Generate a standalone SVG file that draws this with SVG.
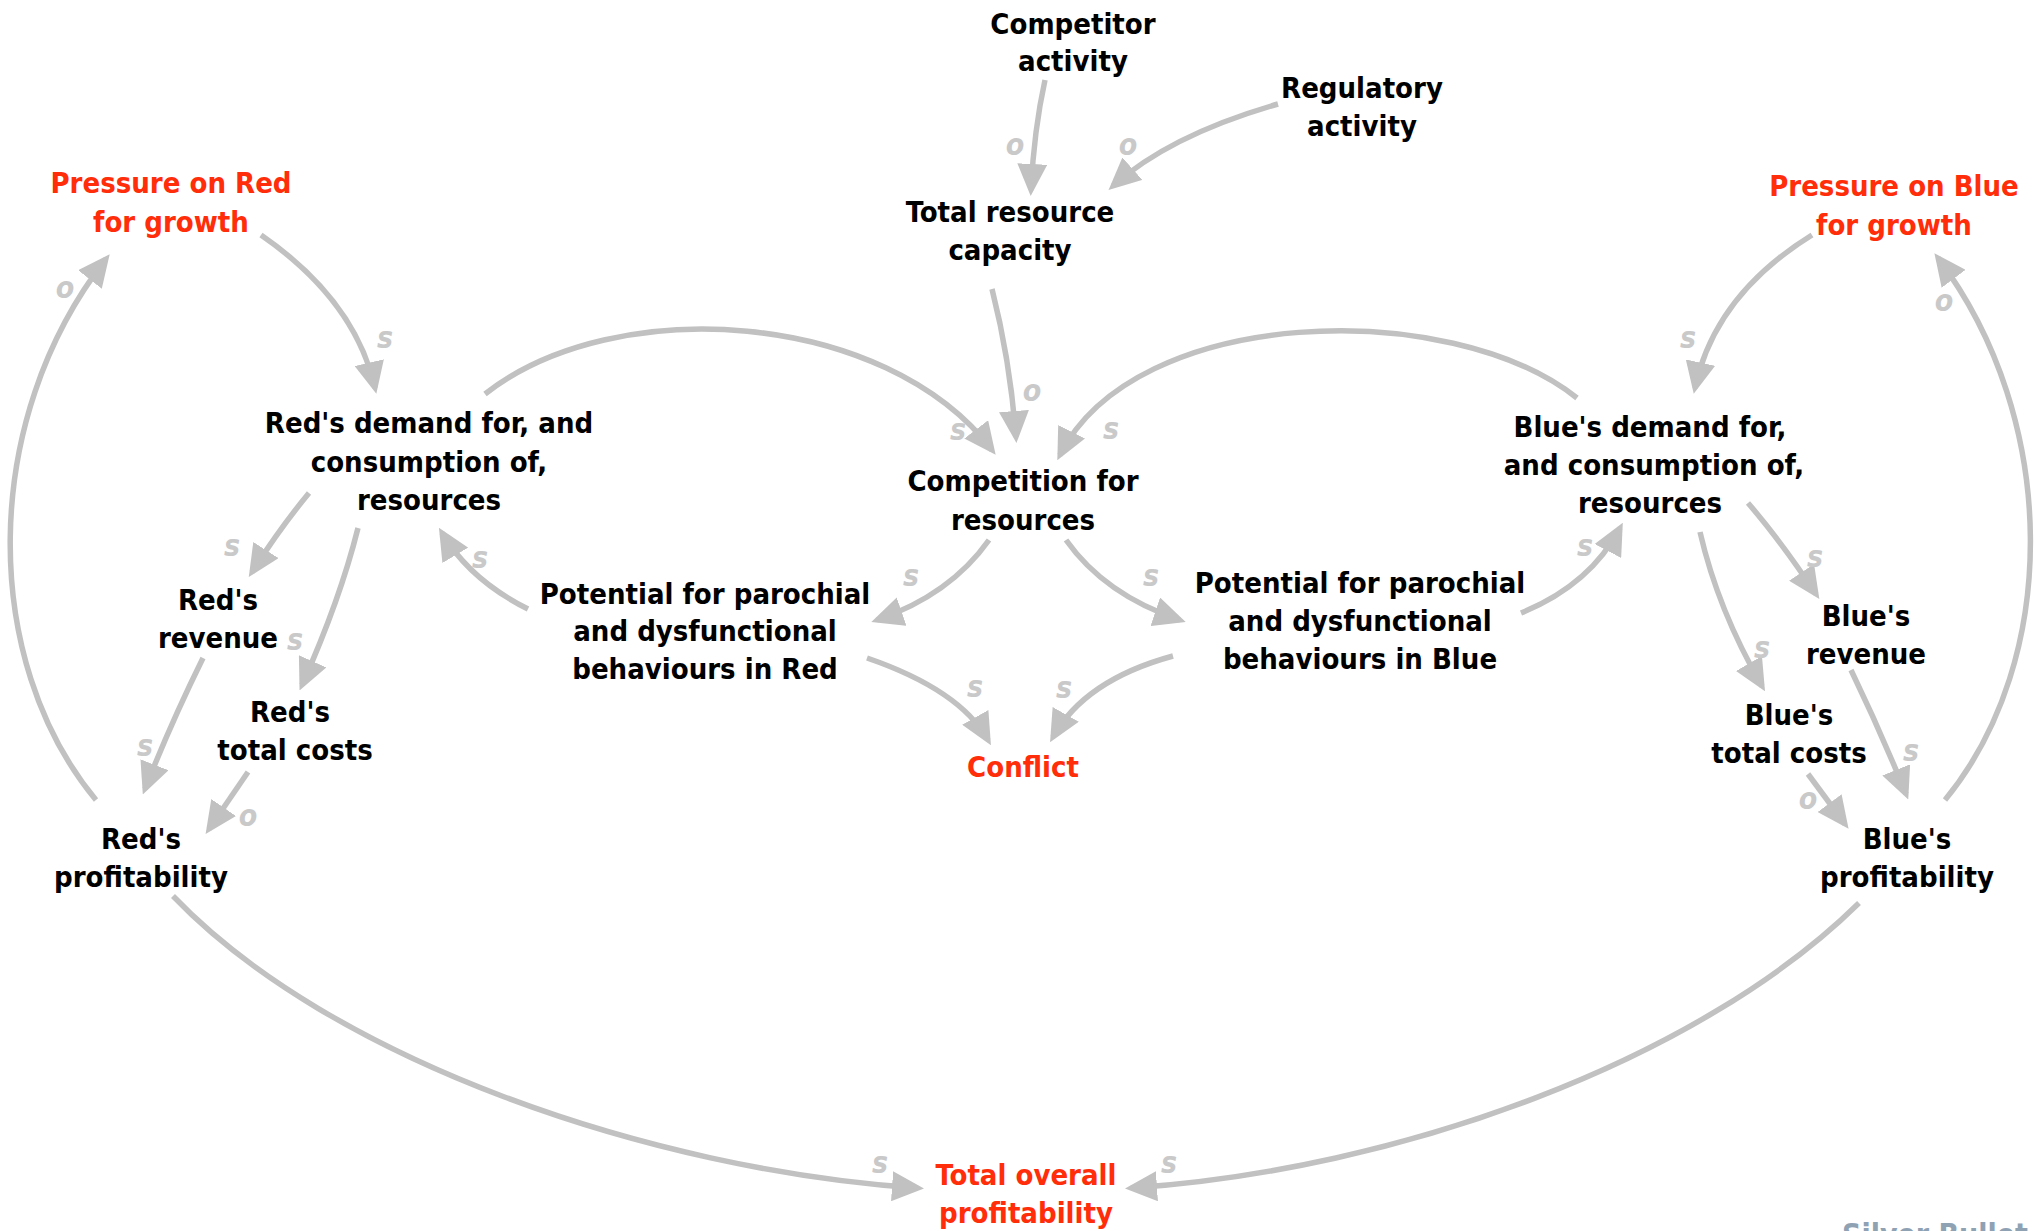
<svg xmlns="http://www.w3.org/2000/svg" width="2044" height="1231" viewBox="0 0 2044 1231">
  <style>
    .n { font-family: "DejaVu Sans Condensed", "DejaVu Sans", sans-serif; font-stretch: condensed; font-weight: bold; font-size: 29px; fill: #000; text-anchor: middle; }
    .hot { fill: #ff2d0a; }
    .pol { font-family: "DejaVu Sans Condensed", "DejaVu Sans", sans-serif; font-stretch: condensed; font-style: italic; font-weight: bold; font-size: 30px; fill: #c9c9c9; text-anchor: middle; }
    .ln { fill: none; stroke: #c0c1c0; stroke-width: 5.5; marker-end: url(#arrow); }
    .brand { font-family: "DejaVu Sans Condensed", "DejaVu Sans", sans-serif; font-stretch: condensed; font-weight: bold; font-size: 30px; fill: #8fa2b4; }
  </style>
  <defs>
    <marker id="arrow" markerUnits="userSpaceOnUse" viewBox="0 0 32 30" markerWidth="32" markerHeight="30" refX="26" refY="15" orient="auto">
      <path d="M0,0 L32,15 L0,30 z" fill="#c0c1c0"/>
    </marker>
  </defs>
  <rect width="2044" height="1231" fill="#fff"/>

  <g id="connectors">
    <path class="ln" d="M1045,80 Q1034,130 1031,190"/>
    <path class="ln" d="M1278,104 Q1170,135 1113,186"/>
    <path class="ln" d="M992,289 Q1010,360 1016,437"/>
    <path class="ln" d="M261,235 Q355,300 375,388"/>
    <path class="ln" d="M96,800 C-20,660 -20,420 106,259"/>
    <path class="ln" d="M485,394 C615,292 885,310 992,450"/>
    <path class="ln" d="M1577,398 C1450,297 1135,305 1060,455"/>
    <path class="ln" d="M1812,235 Q1715,295 1695,388"/>
    <path class="ln" d="M1945,800 C2060,660 2060,420 1938,258"/>
    <path class="ln" d="M309,493 Q280,528 252,572"/>
    <path class="ln" d="M358,528 Q340,600 302,685"/>
    <path class="ln" d="M528,609 Q470,580 442,533"/>
    <path class="ln" d="M989,540 Q950,595 877,620"/>
    <path class="ln" d="M1066,540 Q1105,595 1180,620"/>
    <path class="ln" d="M867,658 Q960,690 988,740"/>
    <path class="ln" d="M1173,656 Q1085,680 1053,737"/>
    <path class="ln" d="M1521,613 Q1590,585 1620,528"/>
    <path class="ln" d="M1748,503 Q1780,540 1816,594"/>
    <path class="ln" d="M1700,532 Q1718,610 1762,686"/>
    <path class="ln" d="M203,658 Q170,725 145,789"/>
    <path class="ln" d="M248,772 L209,829"/>
    <path class="ln" d="M1851,670 Q1880,730 1906,794"/>
    <path class="ln" d="M1808,774 L1845,824"/>
    <path class="ln" d="M173,896 C330,1060 650,1170 918,1188"/>
    <path class="ln" d="M1859,903 C1700,1060 1400,1170 1131,1188"/>
  </g>

  <g id="polarities">
    <text class="pol" x="1015" y="155">o</text>
    <text class="pol" x="1128" y="155">o</text>
    <text class="pol" x="1032" y="401">o</text>
    <text class="pol" x="385" y="348">s</text>
    <text class="pol" x="65" y="298">o</text>
    <text class="pol" x="958" y="440">s</text>
    <text class="pol" x="1111" y="439">s</text>
    <text class="pol" x="1688" y="348">s</text>
    <text class="pol" x="1944" y="311">o</text>
    <text class="pol" x="232" y="556">s</text>
    <text class="pol" x="295" y="650">s</text>
    <text class="pol" x="480" y="568">s</text>
    <text class="pol" x="911" y="586">s</text>
    <text class="pol" x="1151" y="586">s</text>
    <text class="pol" x="975" y="697">s</text>
    <text class="pol" x="1064" y="698">s</text>
    <text class="pol" x="1585" y="556">s</text>
    <text class="pol" x="1815" y="567">s</text>
    <text class="pol" x="1762" y="658">s</text>
    <text class="pol" x="145" y="756">s</text>
    <text class="pol" x="248" y="826">o</text>
    <text class="pol" x="1911" y="761">s</text>
    <text class="pol" x="1808" y="809">o</text>
    <text class="pol" x="880" y="1173">s</text>
    <text class="pol" x="1169" y="1173">s</text>
  </g>

  <g id="competitor-activity"><text class="n"><tspan x="1073" y="34">Competitor</tspan><tspan x="1073" y="71">activity</tspan></text></g>
  <g id="regulatory-activity"><text class="n"><tspan x="1362" y="98">Regulatory</tspan><tspan x="1362" y="136">activity</tspan></text></g>
  <g id="total-resource-capacity"><text class="n"><tspan x="1010" y="222">Total resource</tspan><tspan x="1010" y="260">capacity</tspan></text></g>
  <g id="pressure-red"><text class="n hot"><tspan x="171" y="193">Pressure on Red</tspan><tspan x="171" y="232">for growth</tspan></text></g>
  <g id="pressure-blue"><text class="n hot"><tspan x="1894" y="196">Pressure on Blue</tspan><tspan x="1894" y="235">for growth</tspan></text></g>
  <g id="red-demand"><text class="n"><tspan x="429" y="433">Red's demand for, and</tspan><tspan x="429" y="472">consumption of,</tspan><tspan x="429" y="510">resources</tspan></text></g>
  <g id="competition"><text class="n"><tspan x="1023" y="491">Competition for</tspan><tspan x="1023" y="530">resources</tspan></text></g>
  <g id="blue-demand"><text class="n"><tspan x="1650" y="437">Blue's demand for,</tspan><tspan x="1654" y="475">and consumption of,</tspan><tspan x="1650" y="513">resources</tspan></text></g>
  <g id="red-revenue"><text class="n"><tspan x="218" y="610">Red's</tspan><tspan x="218" y="648">revenue</tspan></text></g>
  <g id="potential-red"><text class="n"><tspan x="705" y="604">Potential for parochial</tspan><tspan x="705" y="641">and dysfunctional</tspan><tspan x="705" y="679">behaviours in Red</tspan></text></g>
  <g id="potential-blue"><text class="n"><tspan x="1360" y="593">Potential for parochial</tspan><tspan x="1360" y="631">and dysfunctional</tspan><tspan x="1360" y="669">behaviours in Blue</tspan></text></g>
  <g id="blue-revenue"><text class="n"><tspan x="1866" y="626">Blue's</tspan><tspan x="1866" y="664">revenue</tspan></text></g>
  <g id="red-total-costs"><text class="n"><tspan x="290" y="722">Red's</tspan><tspan x="295" y="760">total costs</tspan></text></g>
  <g id="blue-total-costs"><text class="n"><tspan x="1789" y="725">Blue's</tspan><tspan x="1789" y="763">total costs</tspan></text></g>
  <g id="conflict"><text class="n hot" x="1023" y="777">Conflict</text></g>
  <g id="red-profitability"><text class="n"><tspan x="141" y="849">Red's</tspan><tspan x="141" y="887">profitability</tspan></text></g>
  <g id="blue-profitability"><text class="n"><tspan x="1907" y="849">Blue's</tspan><tspan x="1907" y="887">profitability</tspan></text></g>
  <g id="total-overall-profitability"><text class="n hot"><tspan x="1026" y="1185">Total overall</tspan><tspan x="1026" y="1223">profitability</tspan></text></g>

  <text class="brand" x="1842" y="1245">Silver Bullet</text>
</svg>
